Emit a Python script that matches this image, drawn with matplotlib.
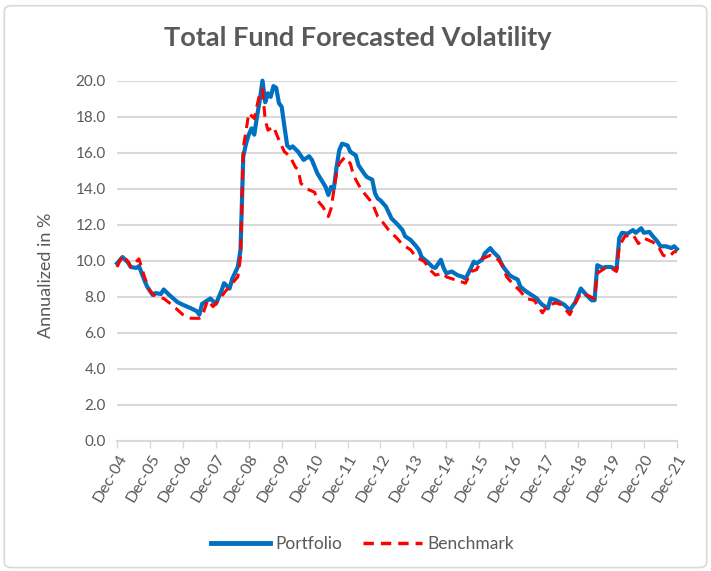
import matplotlib
matplotlib.use("Agg")
import matplotlib.pyplot as plt
from matplotlib.patches import FancyBboxPatch
from matplotlib.lines import Line2D

# Month offsets from Dec-04 and values (Annualized %)
port_months = [0, 2, 4, 5, 7, 8, 10, 11, 13, 14, 16, 17, 19, 22, 24, 27, 29, 30, 31, 33,
               34, 36, 38, 39, 41, 42, 44, 45, 46, 47, 48, 49, 50, 51, 52, 53, 54, 55, 56, 57,
               58, 59, 60, 61, 62, 63, 64, 66, 68, 70, 71, 73, 76, 77, 78, 79, 80, 81, 82, 84,
               85, 87, 88, 90, 91, 93, 94, 95, 96, 98, 100, 102, 104, 105, 107, 109, 110, 111, 113, 115,
               116, 118, 119, 120, 122, 124, 126, 127, 129, 130, 131, 133, 134, 136, 137, 139, 140, 141, 143, 144,
               146, 147, 149, 151, 153, 154, 155, 157, 158, 160, 163, 165, 167, 169, 171, 173, 174, 175, 177, 178,
               180, 182, 183, 184, 186, 188, 189, 191, 192, 194, 195, 197, 198, 200, 202, 203, 204]
portfolio = [9.85, 10.2, 9.9, 9.65, 9.6, 9.7, 8.9, 8.55, 8.1, 8.2, 8.15, 8.4, 8.1, 7.7, 7.55, 7.35, 7.2, 7.0, 7.6, 7.8,
             7.9, 7.6, 8.3, 8.75, 8.45, 9.0, 9.65, 10.6, 15.8, 16.5, 17.0, 17.35, 17.0, 18.0, 18.9, 20.0, 18.8, 19.3, 19.1, 19.7,
             19.6, 18.75, 18.55, 17.45, 16.4, 16.25, 16.35, 16.05, 15.6, 15.8, 15.6, 14.85, 14.1, 13.65, 14.1, 14.0, 15.2, 16.15, 16.5, 16.4,
             16.05, 15.85, 15.3, 14.85, 14.65, 14.5, 13.75, 13.45, 13.35, 13.0, 12.35, 12.05, 11.7, 11.35, 11.15, 10.8, 10.6, 10.2, 9.95, 9.65,
             9.6, 10.05, 9.6, 9.3, 9.4, 9.2, 9.1, 9.0, 9.6, 9.95, 9.85, 10.05, 10.4, 10.7, 10.5, 10.2, 9.85, 9.6, 9.2, 9.1,
             8.95, 8.55, 8.3, 8.1, 7.9, 7.7, 7.55, 7.35, 7.9, 7.8, 7.55, 7.25, 7.7, 8.45, 8.1, 7.8, 7.8, 9.75, 9.6, 9.65,
             9.65, 9.5, 11.25, 11.55, 11.5, 11.7, 11.55, 11.8, 11.55, 11.6, 11.4, 11.05, 10.8, 10.8, 10.7, 10.8, 10.65]

bench_months = [0, 2, 4, 5, 8, 10, 12, 14, 17, 20, 24, 27, 30, 31, 33, 35, 37, 39, 42, 44,
                45, 46, 47, 48, 50, 52, 53, 54, 55, 57, 59, 61, 63, 65, 66, 67, 69, 72, 73, 75,
                77, 78, 79, 80, 81, 83, 85, 86, 87, 89, 93, 95, 97, 99, 102, 104, 107, 109, 112, 114,
                116, 119, 120, 125, 127, 129, 131, 133, 136, 138, 140, 142, 144, 147, 149, 152, 154, 155, 157, 160,
                162, 165, 167, 169, 171, 174, 175, 178, 180, 182, 183, 185, 188, 190, 192, 195, 197, 199, 201, 203, 204]
benchmark = [9.65, 10.3, 9.95, 9.65, 10.1, 9.1, 8.3, 8.0, 7.9, 7.55, 7.0, 6.8, 6.8, 6.9, 7.8, 7.45, 7.8, 8.2, 8.75, 9.1,
             10.2, 16.3, 17.2, 18.2, 17.9, 19.3, 19.5, 17.8, 17.25, 17.45, 16.7, 16.05, 15.8, 15.2, 15.05, 14.3, 14.0, 13.8, 13.35, 13.0,
             12.45, 12.9, 13.9, 14.85, 15.4, 15.75, 15.4, 14.85, 14.5, 13.95, 13.2, 12.45, 12.1, 11.7, 11.25, 10.9, 10.6, 10.2, 9.95, 9.5,
             9.2, 9.3, 9.1, 8.85, 8.75, 9.4, 9.5, 10.1, 10.3, 10.2, 9.85, 9.1, 8.75, 8.3, 7.9, 7.8, 7.35, 7.1, 7.55, 7.65,
             7.55, 7.0, 7.65, 8.2, 8.1, 7.9, 9.3, 9.6, 9.6, 9.4, 10.8, 11.35, 11.45, 10.95, 11.25, 11.05, 10.85, 10.3, 10.2, 10.5, 10.5]

tick_labels = ["Dec-04", "Dec-05", "Dec-06", "Dec-07", "Dec-08", "Dec-09", "Dec-10", "Dec-11", "Dec-12",
               "Dec-13", "Dec-14", "Dec-15", "Dec-16", "Dec-17", "Dec-18", "Dec-19", "Dec-20", "Dec-21"]
y_ticks = [0, 2, 4, 6, 8, 10, 12, 14, 16, 18, 20]

grey = "#595959"
plt.rcParams['font.family'] = ['Lato', 'DejaVu Sans']

fig = plt.figure(figsize=(7.11, 5.71), dpi=100)
border = FancyBboxPatch((0.006, 0.006), 0.988, 0.984, boxstyle="round,pad=0,rounding_size=0.01",
                        transform=fig.transFigure, facecolor="none", edgecolor="#d9d9d9", lw=1.2, zorder=-1)
fig.patches.append(border)

ax = fig.add_axes([0.1646, 0.2282, 0.952 - 0.1646, 0.8587 - 0.2282])
ax.set_facecolor("none")
ax.plot(port_months, portfolio, color="#0070C0", lw=3.0, solid_joinstyle="round", clip_on=False, zorder=3)
ax.plot(bench_months, benchmark, color="#FF0000", lw=2.2, dashes=(3.5, 2.2), clip_on=False, zorder=4)

ax.set_xlim(0, 204)
ax.set_ylim(0, 20)
ax.set_yticks(y_ticks)
ax.set_yticklabels([f"{v:.1f}" for v in y_ticks], fontsize=11, color=grey)
ax.set_xticks(range(0, 205, 12))
ax.set_xticklabels(tick_labels, rotation=60, ha="right", rotation_mode="anchor", fontsize=11.5, color=grey)
ax.tick_params(axis="y", length=0, pad=8)
ax.tick_params(axis="x", length=5, color="#d9d9d9", width=1, pad=3)
ax.grid(axis="y", color="#d9d9d9", lw=1.5)
ax.set_axisbelow(True)
for s in ["left", "right", "top"]:
    ax.spines[s].set_visible(False)
ax.spines["bottom"].set_color("#d9d9d9")
ax.spines["bottom"].set_linewidth(1.5)
ax.set_ylabel("Annualized in %", fontsize=13, color=grey)
ax.yaxis.set_label_coords(-0.113, 0.46)

fig.text(0.503, 0.933, "Total Fund Forecasted Volatility", ha="center", va="center",
         fontsize=19.5, fontweight="bold", color=grey)

handles = [Line2D([], [], color="#0070C0", lw=3.5),
           Line2D([], [], color="#FF0000", lw=2.5, dashes=(3, 2))]
fig.legend(handles, ["Portfolio", "Benchmark"], loc="center", bbox_to_anchor=(0.51, 0.048), ncol=2,
           frameon=False, fontsize=12.5, handlelength=3.4, columnspacing=1.2, handletextpad=0.3,
           labelcolor=grey)

fig.savefig("out.png", dpi=100)
